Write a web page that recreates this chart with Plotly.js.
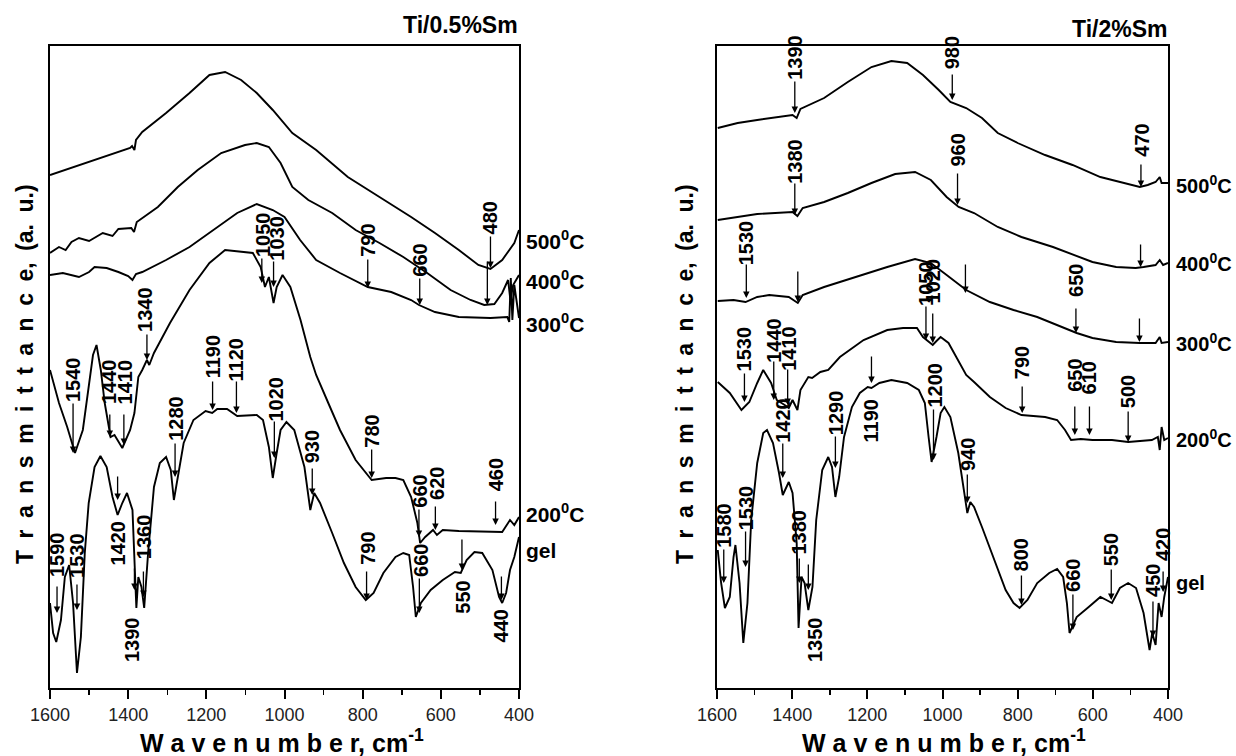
<!DOCTYPE html>
<html>
<head>
<meta charset="utf-8">
<script src="https://cdn.plot.ly/plotly-3.0.1.min.js"></script>
<style>html,body{margin:0;padding:0;background:#fff}#chart{width:1236px;height:756px}</style>
</head>
<body>
<div id="chart"></div>
<script>
// ---------- Left panel: Ti/0.5%Sm ----------
const wL500 = [1600,1526,1445,1395,1390,1384,1380,1364,1303,1243,1192,1152,1111,1071,1030,980,919,838,757,676,615,554,504,473,443,412,400];
const tL500 = [513,523,534,540,542,538,548,556,575,595,613,616,608,595,578,555,538,511,491,471,455,438,423,419,428,445,458];

const wL400 = [1600,1577,1560,1545,1526,1500,1465,1440,1425,1392,1385,1378,1324,1273,1222,1162,1101,1071,1040,1010,980,939,878,818,757,696,635,575,524,489,463,443,428,422,415,400];
const tL400 = [435,441,438,446,450,447,455,452,459,460,456,466,481,501,518,535,543,545,541,525,501,488,475,458,445,431,415,398,388,383,384,395,408,388,403,413];

const wL300 = [1600,1567,1526,1500,1486,1455,1425,1400,1389,1380,1364,1303,1243,1182,1121,1071,1030,1000,960,919,858,787,727,676,656,615,554,473,443,430,425,421,417,412,400];
const tL300 = [413,415,411,416,421,420,416,412,408,414,416,428,441,458,475,484,478,471,448,428,415,401,396,388,383,376,371,370,371,371,366,410,368,403,370];

const wL200 = [1600,1577,1556,1536,1516,1501,1490,1481,1470,1460,1445,1435,1415,1395,1384,1374,1364,1352,1346,1334,1293,1243,1192,1152,1101,1081,1061,1050,1040,1028,1020,1005,985,959,934,919,888,858,818,777,740,716,696,676,660,653,640,620,610,595,554,463,443,423,412,400];
const tL200 = [318,285,261,235,258,301,333,343,318,285,251,253,240,258,275,311,318,328,323,335,365,398,425,438,436,435,421,401,411,385,401,413,401,368,331,313,285,258,228,208,210,210,208,191,165,145,151,158,153,158,157,156,156,168,163,171];

const wLgel = [1600,1592,1584,1572,1562,1551,1541,1531,1521,1511,1501,1486,1471,1455,1440,1427,1415,1403,1389,1382,1379,1374,1366,1359,1349,1334,1319,1303,1291,1283,1273,1258,1233,1202,1185,1172,1147,1121,1071,1055,1040,1030,1020,1010,995,975,949,934,924,909,878,848,818,792,772,747,716,696,681,671,664,651,626,595,564,549,534,514,494,468,451,443,433,423,412,400];
const tLgel = [85,55,46,68,111,123,85,15,51,135,185,221,232,221,191,173,185,195,178,118,80,111,101,80,135,201,225,231,218,188,211,245,268,277,275,279,279,272,273,268,241,210,235,258,266,258,221,178,195,185,155,125,101,88,95,115,131,135,133,101,71,85,98,108,116,115,128,136,135,118,91,85,95,118,131,151];

// ---------- Right panel: Ti/2%Sm ----------
const wR500 = [1598,1545,1493,1440,1399,1388,1378,1315,1252,1189,1136,1094,1052,1010,979,937,895,853,800,727,654,580,517,475,454,433,422,417,400];
const tR500 = [560,565,568,571,573,570,579,590,606,621,627,625,613,598,586,580,570,555,545,533,523,511,505,501,503,506,511,505,505];

const wR400 = [1598,1545,1493,1399,1386,1372,1315,1252,1189,1126,1073,1031,989,957,916,853,790,706,664,601,538,486,465,433,422,413,400];
const tR400 = [468,471,474,476,472,480,486,495,505,514,516,508,491,481,475,461,451,441,435,426,421,420,421,423,428,423,425];

const wR300 = [1598,1556,1524,1493,1461,1409,1385,1372,1315,1231,1147,1073,1031,989,937,874,811,748,685,643,601,538,475,433,422,417,400];
const tR300 = [387,388,386,391,393,391,385,393,401,411,421,429,425,413,398,386,378,371,361,355,350,346,345,345,351,345,346];

const wR200 = [1598,1566,1535,1514,1493,1477,1456,1441,1420,1409,1399,1386,1378,1357,1347,1325,1304,1273,1210,1147,1105,1068,1052,1042,1026,1016,1005,984,958,937,916,874,832,790,727,695,674,658,632,601,549,506,443,427,422,417,410,400];
const tR200 = [306,295,278,286,305,318,305,288,283,280,288,278,298,311,310,316,318,331,348,358,360,360,351,348,343,347,351,345,328,313,306,291,280,273,271,268,258,248,249,248,248,246,248,251,238,261,248,250];

const wRgel = [1598,1589,1579,1566,1556,1551,1540,1530,1519,1509,1493,1477,1467,1451,1435,1425,1409,1399,1388,1383,1375,1367,1357,1346,1336,1320,1304,1294,1285,1275,1262,1241,1220,1199,1189,1168,1136,1094,1063,1047,1037,1029,1016,1005,995,979,958,942,934,926,916,895,863,832,811,795,774,748,716,695,679,669,662,643,611,580,564,549,528,506,485,465,449,442,433,425,417,410,400];
const tRgel = [138,105,80,91,131,143,105,45,85,168,225,255,258,245,215,193,206,195,145,60,111,105,78,101,168,218,231,221,191,211,251,281,295,301,300,305,308,305,298,285,251,226,251,275,281,271,235,195,175,186,181,161,128,98,85,80,88,105,115,119,111,85,55,71,81,91,88,85,100,105,100,75,38,55,43,85,71,91,111];

// peak labels: [wavenumber of text, text centre, arrow wavenumber, arrow tail, arrow head, label]
const peaksL = [
  [1055,453,1058,431,405,'1050'],[1020,450,1028,428,401,'1030'],[787,448,787,430,400,'790'],
  [654,428,654,411,383,'660'],[473,470,473,453,420,'480'],[null,null,481,428,383,''],
  [1357,379,1352,355,328,'1340'],[1541,308,1541,286,235,'1540'],[1449,306,1447,275,251,'1440'],
  [1407,306,1411,275,243,'1410'],[1182,331,1184,308,278,'1190'],[1123,328,1123,308,275,'1120'],
  [1278,270,1280,246,211,'1280'],[1023,289,1026,268,230,'1020'],[929,241,929,221,193,'930'],
  [777,257,777,240,210,'780'],[654,197,656,180,151,'660'],[610,205,614,183,158,'620'],
  [458,213,460,188,163,'460'],
  [1582,133,1582,103,75,'1590'],[1531,133,1531,105,78,'1530'],[1427,145,1427,213,188,'1420'],
  [1385,48,1384,121,98,''],[1390,48,null,null,null,'1390'],[1359,151,1361,118,91,'1360'],[787,140,790,118,88,'790'],
  [651,128,655,111,75,'660'],[544,91,546,150,118,'550'],[445,62,445,113,88,'440']
];
const peaksR = [
  [1393,631,1393,608,575,'1390'],[974,635,974,615,588,'980'],[1393,527,1393,506,473,'1380'],
  [960,538,960,516,483,'960'],[470,548,472,525,501,'470'],[1522,445,1522,425,390,'1530'],
  [null,null,1385,418,386,''],[1044,405,1044,383,348,'1050'],[1024,407,1026,376,345,'1020'],
  [null,null,939,425,395,''],[645,408,645,381,355,'650'],[null,null,473,445,421,''],
  [null,null,476,371,346,''],[1527,339,1527,316,286,'1530'],[1449,348,1449,328,288,'1440'],
  [1409,340,1412,320,283,'1410'],[788,325,788,303,275,'790'],[648,313,648,283,253,'650'],
  [609,310,609,283,253,'610'],[506,296,506,278,246,'500'],[1189,267,1189,333,305,'1190'],
  [1021,303,1024,280,228,'1200'],[1425,268,1425,246,210,'1420'],[1283,275,1285,253,220,'1290'],
  [932,233,934,215,185,'940'],[1582,163,1582,140,105,'1580'],[1522,180,1524,158,121,'1530'],
  [1383,156,1381,131,105,'1380'],[1339,48,1357,125,98,'1350'],[790,133,790,114,83,'800'],
  [653,113,653,95,58,'660'],[551,138,551,120,88,'550'],[440,108,440,88,51,'450'],[413,143,413,118,96,'420']
];

const seriesL = [['500',wL500,tL500],['400',wL400,tL400],['300',wL300,tL300],['200',wL200,tL200],['gel',wLgel,tLgel]];
const seriesR = [['500',wR500,tR500],['400',wR400,tR400],['300',wR300,tR300],['200',wR200,tR200],['gel',wRgel,tRgel]];
const sampleLabels = ['500<sup>0</sup>C','400<sup>0</sup>C','300<sup>0</sup>C','200<sup>0</sup>C','gel'];
const labelTL = [448,408,365,175,138];
const labelTR = [503,426,346,250,105];
const xTicks = [1600,1400,1200,1000,800,600,400];

const FONT = 'Arial, "Liberation Sans", sans-serif';
const traces = [];
seriesL.forEach(s => traces.push({x:s[1], y:s[2], type:'scatter', mode:'lines', line:{color:'#000', width:1.9}, xaxis:'x', yaxis:'y', hoverinfo:'skip', showlegend:false}));
seriesR.forEach(s => traces.push({x:s[1], y:s[2], type:'scatter', mode:'lines', line:{color:'#000', width:1.9}, xaxis:'x2', yaxis:'y2', hoverinfo:'skip', showlegend:false}));

const ann = [];
function addPeaks(list, xr, yr) {
  list.forEach(p => {
    const [wt, tt, wa, tail, head, txt] = p;
    if (wa !== null) {
      ann.push({x:wa, y:head, ax:wa, ay:tail, xref:xr, yref:yr, axref:xr, ayref:yr, text:'', showarrow:true,
        arrowhead:2, arrowsize:1, arrowwidth:1.3, arrowcolor:'#000', standoff:0, startstandoff:0});
    }
    if (txt && wt !== null) {
      ann.push({x:wt, y:tt, xref:xr, yref:yr, text:txt, showarrow:false, textangle:-90,
        xanchor:'center', yanchor:'middle', font:{family:FONT, size:20, color:'#000', weight:'bold'}});
    }
  });
}
addPeaks(peaksL, 'x', 'y');
addPeaks(peaksR, 'x2', 'y2');

sampleLabels.forEach((s, i) => {
  ann.push({x:524/1236, y:labelTL[i], xref:'paper', yref:'y', text:s, showarrow:false, xanchor:'left', yanchor:'middle', font:{family:FONT, size:21, color:'#000', weight:'bold'}});
  ann.push({x:1174/1236, y:labelTR[i], xref:'paper', yref:'y2', text:s, showarrow:false, xanchor:'left', yanchor:'middle', font:{family:FONT, size:20, color:'#000', weight:'bold'}});
});

ann.push({x:520/1236, y:(756-25)/756, xref:'paper', yref:'paper', text:'Ti/0.5%Sm', showarrow:false, xanchor:'right', yanchor:'middle', font:{family:FONT, size:23, color:'#000', weight:'bold'}});
ann.push({x:1169/1236, y:(756-29)/756, xref:'paper', yref:'paper', text:'Ti/2%Sm', showarrow:false, xanchor:'right', yanchor:'middle', font:{family:FONT, size:23, color:'#000', weight:'bold'}});

const yTitle = 'T\u2002r\u2002a\u2002n\u2002s\u2002m\u2002i\u2002t\u2002t\u2002a\u2002n\u2002c\u2002e,\u2002(a.\u2002u.)';
ann.push({x:25/1236, y:(756-374)/756, xref:'paper', yref:'paper', text:yTitle, showarrow:false, textangle:-90, xanchor:'center', yanchor:'middle', font:{family:FONT, size:23, color:'#000', weight:'bold'}});
ann.push({x:685/1236, y:(756-374)/756, xref:'paper', yref:'paper', text:yTitle, showarrow:false, textangle:-90, xanchor:'center', yanchor:'middle', font:{family:FONT, size:23, color:'#000', weight:'bold'}});
const xTitle = 'W a v e n u m b e r, cm<sup>-1</sup>';
ann.push({x:282/1236, y:(756-741)/756, xref:'paper', yref:'paper', text:xTitle, showarrow:false, xanchor:'center', yanchor:'middle', font:{family:FONT, size:25, color:'#000', weight:'bold'}});
ann.push({x:944/1236, y:(756-741)/756, xref:'paper', yref:'paper', text:xTitle, showarrow:false, xanchor:'center', yanchor:'middle', font:{family:FONT, size:25, color:'#000', weight:'bold'}});

function xax(dom, anchor) {
  return {domain:dom, anchor:anchor, range:[1600,400], tickvals:xTicks, ticktext:xTicks.map(String),
    showline:true, mirror:true, linecolor:'#000', linewidth:2, ticks:'outside', ticklen:9, tickwidth:2, tickcolor:'#000',
    minor:{dtick:100, tick0:400, ticks:'outside', ticklen:5, tickwidth:1.5, tickcolor:'#000', showgrid:false},
    showgrid:false, zeroline:false, tickfont:{family:FONT, size:18, color:'#222'}, fixedrange:true};
}
function yax(anchor) {
  return {domain:[68/756, 710/756], anchor:anchor, range:[0,642], showline:true, mirror:true, linecolor:'#000', linewidth:2,
    ticks:'', showticklabels:false, showgrid:false, zeroline:false, fixedrange:true};
}
const layout = {
  width:1236, height:756, margin:{l:0, r:0, t:0, b:0}, paper_bgcolor:'#fff', plot_bgcolor:'#fff',
  xaxis: xax([50/1236, 519/1236], 'y'), yaxis: yax('x'),
  xaxis2: xax([717/1236, 1168/1236], 'y2'), yaxis2: yax('x2'),
  annotations: ann, showlegend:false
};
Plotly.newPlot('chart', traces, layout, {staticPlot:true, displayModeBar:false});
</script>
</body>
</html>
